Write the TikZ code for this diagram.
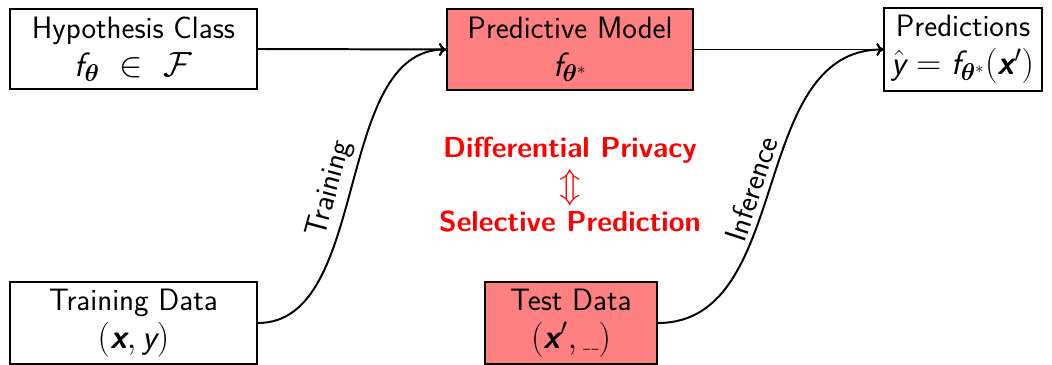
\documentclass[tikz,border=0pt]{standalone}
\usepackage{amsmath,bm}
\usepackage{fontspec}
\renewcommand\familydefault{\sfdefault}
\usetikzlibrary{arrows.meta}
\newcommand\vf{\text{\itshape f}}
\newcommand\vy{\text{\itshape y}}
\newcommand\vx{\text{\bfseries\itshape x}}
\newcommand\vth{\boldsymbol{\theta}}
\newcommand\ml{\fontsize{24}{27}\selectfont}
\begin{document}
\begin{tikzpicture}[x=0.025cm,y=-0.025cm,
  box/.style={draw=black,line width=1.3pt,align=center,inner sep=0pt,
    font=\fontsize{22}{27}\selectfont},
  hot/.style={box,fill=red!50},
  conn/.style={line width=1.4pt,-{To[length=5pt,width=9pt]}},
  lbl/.style={font=\fontsize{22}{26}\selectfont,sloped,above,inner sep=4pt},
  redtxt/.style={text=red,font=\fontsize{20.5}{24}\selectfont\bfseries}]
\useasboundingbox (0,0) rectangle (1052,365);
\node[box,minimum width=6.175cm,minimum height=2cm] (hc) at (133.5,49)
  {Hypothesis Class\\ \ml $\vf_{\vth}\ \in\ \mathcal{F}$};
\node[hot,minimum width=6.15cm,minimum height=2.03cm] (pm) at (570,49.5)
  {Predictive Model\\ \ml $\vf_{\vth^*}$};
\node[box,minimum width=3.93cm,minimum height=2.08cm] (pr) at (963,49.5)
  {Predictions\\ \ml $\hat{\vy} = \vf_{\vth^*}(\vx')$};
\node[box,minimum width=6.175cm,minimum height=2.05cm] (td) at (133.5,323)
  {Training Data\\ \ml $(\vx, \vy)$};
\node[hot,minimum width=4.3cm,minimum height=2.05cm] (te) at (571,323)
  {Test Data\\ \ml $(\vx', \text{\scriptsize\_\,\_})$};
\draw[conn] (hc.east) -- (pm.west);
\draw[conn] (pm.east) -- (pr.west);
\draw[conn] (td.east) .. controls +(113,0) and +(-113,0) .. node[lbl,pos=0.48] {Training} (pm.west);
\draw[conn] (te.east) .. controls +(136,0) and +(-136,0) .. node[lbl,pos=0.48] {Inference} (pr.west);
\node[redtxt] (dp) at (570,150) {Differential Privacy};
\node[text=red,font=\fontsize{26}{30}\selectfont] (eq) at (570,188) {$\Updownarrow$};
\node[redtxt] (sp) at (570,222) {Selective Prediction};
\end{tikzpicture}
\end{document}
